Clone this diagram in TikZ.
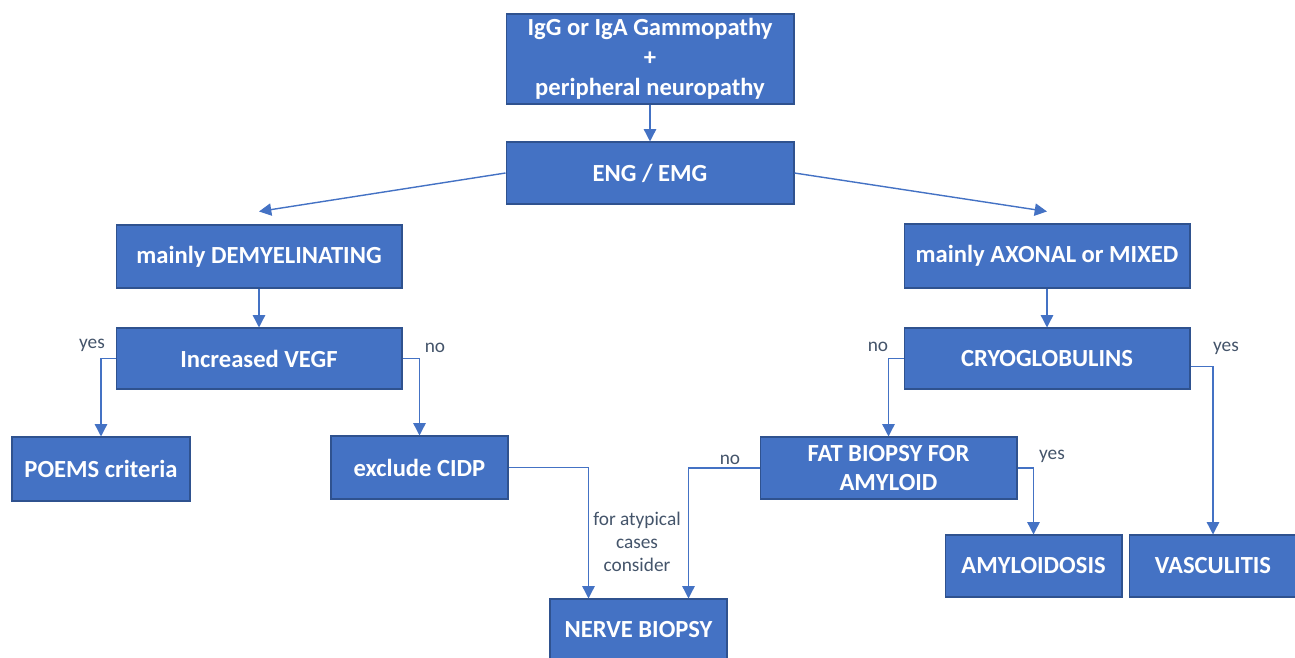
\documentclass[tikz,border=0pt]{standalone}
\usepackage{fontspec}
\setmainfont{Carlito}
\usetikzlibrary{arrows.meta,calc}
\definecolor{boxblue}{HTML}{4472C4}
\definecolor{boxedge}{HTML}{2F528F}
\definecolor{lbltext}{HTML}{44546A}

\begin{document}
\begin{tikzpicture}[x=0.02cm,y=-0.02cm]
        \tikzstyle{box}=[rectangle,fill=boxblue,draw=boxedge,line width=0.6pt,text=white,align=center,inner sep=0pt,font=\fontsize{14}{17}\selectfont\bfseries]
        \tikzstyle{arr}=[draw=boxblue,line width=0.8pt,-{Triangle[width=7pt,length=7pt]}]
        \tikzstyle{lbl}=[text=lbltext,align=center,font=\fontsize{11}{13}\selectfont]
        \useasboundingbox (0,0) rectangle (1295,657);

                % top row
                \node[box,minimum width=5.76cm,minimum height=1.8cm] (gamm) at (650,59) {IgG or IgA Gammopathy\\+\\peripheral neuropathy};
                \node[box,minimum width=5.76cm,minimum height=1.24cm] (eng) at (650,173) {ENG / EMG};

                % left branch
                \node[box,minimum width=5.72cm,minimum height=1.26cm] (demy) at (259,256.5) {mainly DEMYELINATING};
                \node[box,minimum width=5.72cm,minimum height=1.22cm] (vegf) at (259,358.5) {Increased VEGF};
                \node[box,minimum width=3.56cm,minimum height=1.28cm] (poems) at (101,469) {POEMS criteria};
                \node[box,minimum width=3.54cm,minimum height=1.26cm] (cidp) at (419.5,467.5) {exclude CIDP};

                % right branch
                \node[box,minimum width=5.72cm,minimum height=1.28cm] (axonal) at (1047,256) {mainly AXONAL or MIXED};
                \node[box,minimum width=5.72cm,minimum height=1.22cm] (cryo) at (1047,358.5) {CRYOGLOBULINS};
                \node[box,minimum width=5.14cm,minimum height=1.24cm] (fat) at (888.5,468) {FAT BIOPSY FOR\\AMYLOID};
                \node[box,minimum width=3.54cm,minimum height=1.24cm] (amyl) at (1033.5,566) {AMYLOIDOSIS};
                \node[box,minimum width=3.36cm,minimum height=1.24cm] (vasc) at (1213,566) {VASCULITIS};

                \node[box,minimum width=3.54cm,minimum height=1.24cm] (nerve) at (638.5,630) {NERVE BIOPSY};

                \foreach \from/\to in {gamm/eng, demy/vegf, axonal/cryo}
                        \draw[arr] (\from) -- (\to);

                \draw[arr] (eng.west) -- ($(demy.north)+(0,-13)$);
                \draw[arr] (eng.east) -- ($(axonal.north)+(0,-12)$);

                \foreach \from/\side/\to in {vegf/west/poems, vegf/east/cidp, cryo/west/fat, fat/east/amyl}
                        \draw[arr] (\from.\side) -| (\to.north);

                \draw[arr] ($(cryo.east)+(0,8)$) -| (vasc.north);
                \draw[arr] (cidp.east) -| ($(nerve.north)+(-50,0)$);
                \draw[arr] (fat.west) -| ($(nerve.north)+(50,0)$);

                % yes / no labels
                \foreach \n/\txt/\x/\y in {1/yes/92/345, 2/no/435/348, 3/no/730/460, 4/no/878/347, 5/yes/1226/348, 6/yes/1052/456}
                        \node[lbl] (L\n) at (\x,\y) {\txt};
                \node[lbl] (atyp) at (637,542) {for atypical\\cases\\consider};
\end{tikzpicture}
\end{document}
